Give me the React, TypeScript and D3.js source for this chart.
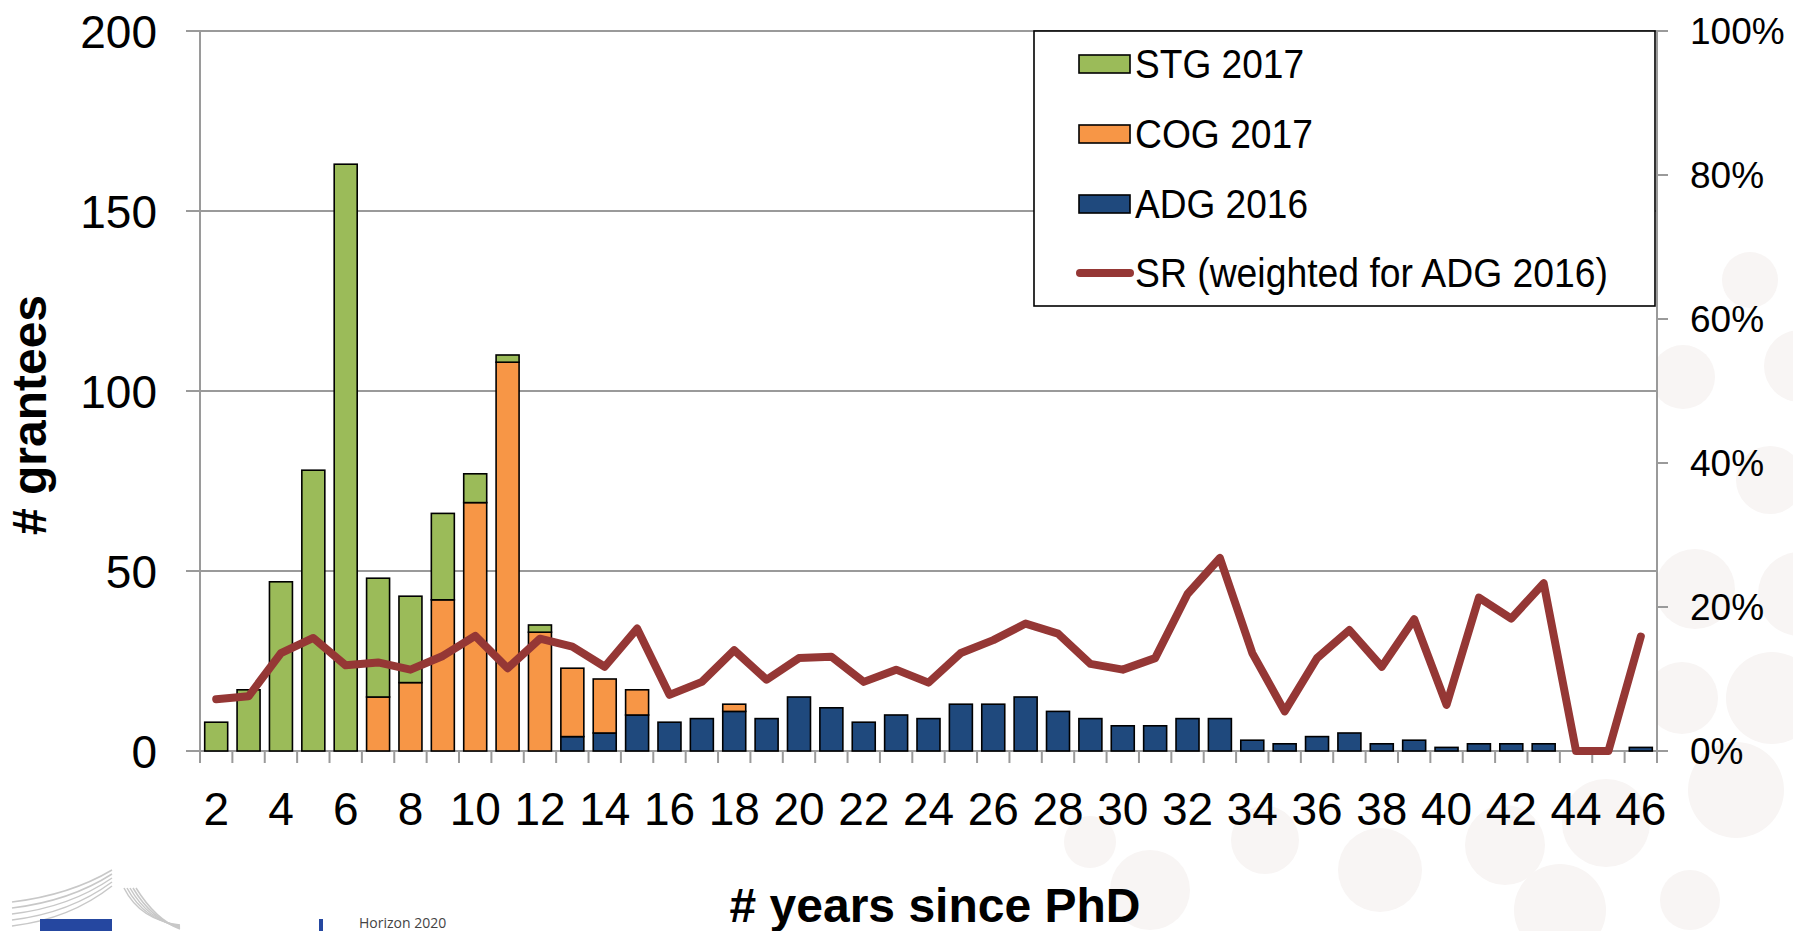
import React from "react";
import * as d3 from "d3";

const years = [2,3,4,5,6,7,8,9,10,11,12,13,14,15,16,17,18,19,20,21,22,23,24,25,26,27,28,29,30,31,32,33,34,35,36,37,38,39,40,41,42,43,44,45,46];
const stg2017 = [8,17,47,78,163,33,24,24,8,2,2,0,0,0,0,0,0,0,0,0,0,0,0,0,0,0,0,0,0,0,0,0,0,0,0,0,0,0,0,0,0,0,0,0,0];
const cog2017 = [0,0,0,0,0,15,19,42,69,108,33,19,15,7,0,0,2,0,0,0,0,0,0,0,0,0,0,0,0,0,0,0,0,0,0,0,0,0,0,0,0,0,0,0,0];
const adg2016 = [0,0,0,0,0,0,0,0,0,0,0,4,5,10,8,9,11,9,15,12,8,10,9,13,13,15,11,9,7,7,9,9,3,2,4,5,2,3,1,2,2,2,0,0,1];
const srWeighted = [7.2,7.6,13.6,15.7,11.9,12.3,11.3,13.2,16.0,11.5,15.6,14.5,11.7,17.0,7.8,9.6,14.0,9.9,12.9,13.1,9.6,11.3,9.5,13.6,15.4,17.7,16.3,12.1,11.3,12.9,21.8,26.8,13.6,5.5,12.9,16.8,11.7,18.3,6.4,21.3,18.4,23.3,0,0,15.9];
const leftTicks = [0,50,100,150,200];
const rightTicks = [0,20,40,60,80,100];
const xLabels = [2,4,6,8,10,12,14,16,18,20,22,24,26,28,30,32,34,36,38,40,42,44,46];
const seriesNames = ["STG 2017","COG 2017","ADG 2016","SR (weighted for ADG 2016)"];

const W = 1793, H = 931;
const L = 200, R = 1657, T = 31, B = 751;
const COLORS = { stg: "#9bbb59", cog: "#f79646", adg: "#1f497d", sr: "#953735" };
const GRID = "#9a9a9a";
const FONT = "Liberation Sans, Arial, Helvetica, sans-serif";

// decorative slide background bubbles
const bubbles: [number, number, number][] = [
  [1750, 280, 28], [1683, 377, 32], [1800, 366, 36], [1770, 480, 34],
  [1695, 589, 40], [1800, 594, 42], [1682, 698, 36], [1772, 698, 46],
  [1736, 790, 48], [1606, 823, 44], [1505, 845, 40], [1380, 870, 42],
  [1265, 840, 34], [1150, 890, 40], [1090, 842, 26], [1560, 910, 46], [1690, 900, 30]
];

export default function App() {
  const data = years.map((y, i) => ({ year: y, stg: stg2017[i], cog: cog2017[i], adg: adg2016[i], sr: srWeighted[i] }));
  const x = d3.scaleBand<number>().domain(years).range([L, R]).paddingInner(0.29).paddingOuter(0.145);
  const yL = d3.scaleLinear().domain([0, 200]).range([B, T]);
  const yR = d3.scaleLinear().domain([0, 100]).range([B, T]);
  const stack = d3.stack<any>().keys(["adg", "cog", "stg"]);
  const layers = stack(data);
  const bw = x.bandwidth();
  const gap = (x.step() - bw) / 2;
  const boundaries = years.map((y) => (x(y) as number) - gap).concat([R]);
  const line = d3.line<any>().x((d) => (x(d.year) as number) + bw / 2).y((d) => yR(d.sr));
  const colorOf: Record<string, string> = { adg: COLORS.adg, cog: COLORS.cog, stg: COLORS.stg };

  const legX = 1034, legY = T, legW = 621, legH = 275;
  const legItems = [
    { label: seriesNames[0], color: COLORS.stg, type: "rect", y: 64 },
    { label: seriesNames[1], color: COLORS.cog, type: "rect", y: 134 },
    { label: seriesNames[2], color: COLORS.adg, type: "rect", y: 204 },
    { label: seriesNames[3], color: COLORS.sr, type: "line", y: 273 },
  ];
  const legLen = [169, 178, 173, 473];

  return (
    <svg width={W} height={H} style={{ position: "absolute", left: 0, top: 0, background: "#fff" }} fontFamily={FONT}>
      <rect x={0} y={0} width={W} height={H} fill="#fff" />
      {bubbles.map(([cx, cy, r], i) => (
        <circle key={i} cx={cx} cy={cy} r={r} fill="#f8f5f4" />
      ))}
      <rect x={L} y={T} width={R - L} height={B - T} fill="#fff" />
      {/* gridlines */}
      {leftTicks.map((t) => (
        <line key={t} x1={L - 14} x2={R} y1={yL(t)} y2={yL(t)} stroke={GRID} strokeWidth={2} />
      ))}
      {/* axes */}
      <line x1={L} x2={L} y1={T} y2={B} stroke={GRID} strokeWidth={2} />
      <line x1={R} x2={R} y1={T} y2={B + 12} stroke={GRID} strokeWidth={2} />
      {rightTicks.map((t) => (
        <line key={t} x1={R} x2={R + 11} y1={yR(t)} y2={yR(t)} stroke={GRID} strokeWidth={2} />
      ))}
      {boundaries.map((bx, i) => (
        <line key={i} x1={bx} x2={bx} y1={B} y2={B + 12} stroke={GRID} strokeWidth={2} />
      ))}
      {/* bars */}
      {layers.map((layer) => (
        <g key={layer.key} fill={colorOf[layer.key]}>
          {layer.map((d, i) =>
            d[1] - d[0] > 0 ? (
              <rect key={i} x={x(d.data.year)} y={yL(d[1])} width={bw} height={yL(d[0]) - yL(d[1])} stroke="#000" strokeWidth={1.6} />
            ) : null
          )}
        </g>
      ))}
      {/* SR line */}
      <path d={line(data) || ""} fill="none" stroke={COLORS.sr} strokeWidth={8} strokeLinejoin="round" strokeLinecap="round" />
      {/* left tick labels */}
      {leftTicks.map((t) => (
        <text key={t} x={157} y={yL(t)} dy="0.36em" textAnchor="end" fontSize={46} fill="#000">{t}</text>
      ))}
      {/* right tick labels */}
      {rightTicks.map((t) => (
        <text key={t} x={1690} y={yR(t)} dy="0.36em" textAnchor="start" fontSize={37} fill="#000">{t + "%"}</text>
      ))}
      {/* x labels */}
      {xLabels.map((v) => (
        <text key={v} x={(x(v) as number) + bw / 2} y={825} textAnchor="middle" fontSize={46} fill="#000">{v}</text>
      ))}
      {/* axis titles */}
      <text transform={`translate(46,415) rotate(-90)`} textAnchor="middle" fontSize={48} fontWeight="bold" fill="#000"># grantees</text>
      <text x={935} y={922} textAnchor="middle" fontSize={48} fontWeight="bold" fill="#000"># years since PhD</text>
      {/* legend */}
      <rect x={legX} y={legY} width={legW} height={legH} fill="#fff" stroke="#000" strokeWidth={1.6} />
      {legItems.map((it, i) => (
        <g key={i}>
          {it.type === "rect" ? (
            <rect x={1079} y={it.y - 9} width={51} height={18} fill={it.color} stroke="#000" strokeWidth={1.6} />
          ) : (
            <line x1={1080} x2={1130} y1={it.y} y2={it.y} stroke={it.color} strokeWidth={8} strokeLinecap="round" />
          )}
          <text x={1135} y={it.y} dy="0.36em" fontSize={40} fill="#000" textLength={legLen[i]} lengthAdjust="spacingAndGlyphs">{it.label}</text>
        </g>
      ))}
      {/* footer logos */}
      <g>
        {[0, 1, 2, 3, 4].map((k) => (
          <path key={k} d={`M 12 ${902 + k * 6} Q 70 ${895 + k * 6} 112 ${870 + k * 4}`} fill="none" stroke="#c8c8c8" strokeWidth={1.5} />
        ))}
        {[0, 1, 2, 3, 4].map((k) => (
          <path key={"b" + k} d={`M ${124 + k * 3} 888 Q ${140 + k * 4} 920 ${180} ${925 + k}`} fill="none" stroke="#c8c8c8" strokeWidth={1.5} />
        ))}
        <rect x={40} y={919} width={72} height={12} fill="#2547a0" />
        <rect x={319} y={919} width={4} height={12} fill="#2547a0" />
        <text x={359} y={928} fontSize={14} fill="#444" fontFamily="Open Sans, sans-serif">Horizon 2020</text>
      </g>
    </svg>
  );
}
